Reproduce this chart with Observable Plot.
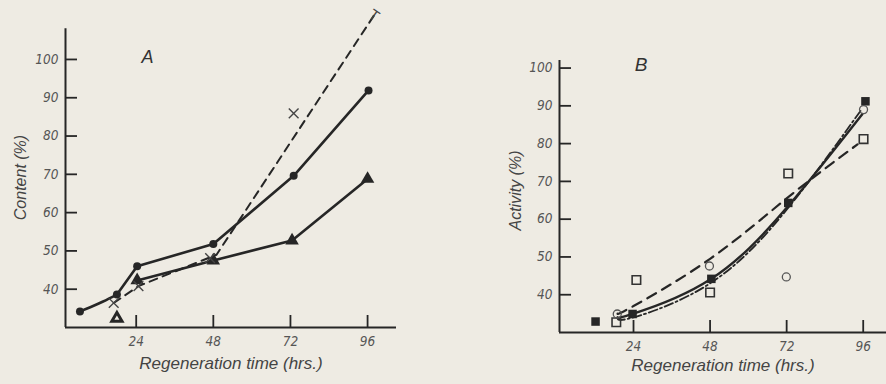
<!DOCTYPE html>
<html>
<head>
<meta charset="utf-8">
<script src="https://cdn.jsdelivr.net/npm/d3@7"></script>
<script src="https://cdn.jsdelivr.net/npm/@observablehq/plot@0.6"></script>
<style>
  html, body { margin: 0; padding: 0; background: #eeebe3; }
  #wrap { position: relative; width: 886px; height: 384px; overflow: hidden; background: #eeebe3; }
  #wrap svg { position: absolute; top: 0; background: transparent; }
</style>
</head>
<body>
<div id="wrap"></div>
<script>
// ---------- shared ----------
const xTicks = [24, 48, 72, 96];
const yTicks = [40, 50, 60, 70, 80, 90, 100];
const xTitle = "Regeneration time (hrs.)";

// ---------- Panel A: Content (%) ----------
const aTitle = "Content (%)";
const aLetter = ["A"];
const aLetterPos = { t: 27.5, v: 100.5 };
// solid line with filled circles
const aCircT = [6.5, 18, 24.3, 48, 73, 96.3];
const aCircV = [34.2, 38.6, 46, 51.8, 69.6, 91.9];
// curved start of that line
const aCurveT = [6.5, 9.7, 13.7, 18];
const aCurveV = [34.2, 35.3, 36.8, 38.6];
// solid line with filled triangles
const aTriT = [24.3, 48, 72.5, 96];
const aTriV = [42.3, 47.5, 52.7, 68.8];
// isolated open (bold) triangle
const aOpenTriT = [18];
const aOpenTriV = [32.4];
// crosses
const aCrossT = [17, 24.7, 47, 73];
const aCrossV = [36.4, 40.8, 48.1, 85.9];
// dashed line
const aDashT = [17, 24.7, 49, 98];
const aDashV = [36.4, 40.8, 49, 111.5];
// end mark of dashed line
const aEndT = [98];
const aEndV = [111.5];

// ---------- Panel B: Activity (%) ----------
const bTitle = "Activity (%)";
const bLetter = ["B"];
const bLetterPos = { t: 26.4, v: 100.9 };
const bFillSqT = [12.1, 23.7, 48.4, 72.5, 96.7];
const bFillSqV = [32.9, 34.9, 44.2, 64.3, 91.2];
const bOpenSqT = [18.6, 24.9, 48, 72.5, 96.1];
const bOpenSqV = [32.7, 43.9, 40.6, 72.1, 81.2];
const bOpenCircT = [18.9, 47.8, 71.9, 96.1];
const bOpenCircV = [34.9, 47.6, 44.7, 89];
// fitted curves
const bSolidT = [19, 24, 48, 72, 95.7];
const bSolidV = [34, 35, 44, 63, 87.8];
const bDashT = [19, 24, 48, 72, 94.2];
const bDashV = [35, 37, 49.5, 65.5, 79.8];
const bDashDotT = [19, 24, 48, 72, 95.7];
const bDashDotV = [34, 34, 43, 62.5, 89.3];

// ---------- helpers ----------
const zip = (T, V) => T.map((t, i) => ({ t, v: V[i] }));
const ink = "#262626";
const tickInk = "#555";
const fontFam = "'DejaVu Sans Condensed', 'Liberation Sans Narrow', 'DejaVu Sans', sans-serif";
const titleFam = "'Liberation Sans', 'DejaVu Sans', sans-serif";
const tickLen = 12; // px

function axes(size, xDom, yDom, yAxisTop, yTitle, yTitleOffset, yTitleShift, xTitleOffset) {
  const frameW = size.width - size.marginLeft - size.marginRight;
  const frameH = size.height - size.marginTop - size.marginBottom;
  // tick length expressed in data units of each scale
  const tx = tickLen * (xDom[1] - xDom[0]) / frameW;
  const ty = tickLen * (yDom[1] - yDom[0]) / frameH;
  return [
    Plot.ruleX([xDom[0]], { y1: yDom[0], y2: yAxisTop, stroke: ink, strokeWidth: 2 }),
    Plot.ruleY([yDom[0]], { x1: xDom[0], x2: xDom[1], stroke: ink, strokeWidth: 2 }),
    // inward tick marks
    Plot.ruleX(xTicks, { x: d => d, y1: yDom[0], y2: yDom[0] + ty, stroke: ink, strokeWidth: 1.8 }),
    Plot.ruleY(yTicks, { y: d => d, x1: xDom[0], x2: xDom[0] + tx, stroke: ink, strokeWidth: 1.8 }),
    Plot.axisX(xTicks, { tickSize: 0, tickPadding: 9,
      fill: tickInk, fontSize: 13.5, fontStyle: "italic", fontFamily: fontFam, label: null }),
    Plot.axisY(yTicks, { tickSize: 0, tickPadding: 7,
      fill: tickInk, fontSize: 13.5, fontStyle: "italic", fontFamily: fontFam, label: null }),
    Plot.text([yTitle], { frameAnchor: "left", dx: -yTitleOffset, dy: yTitleShift, rotate: -90, textAnchor: "middle",
      fontSize: 16, fontStyle: "italic", fontFamily: titleFam, fill: "#444" }),
    Plot.text([xTitle], { frameAnchor: "bottom", dy: xTitleOffset, textAnchor: "middle", fontSize: 17,
      fontStyle: "italic", fontFamily: titleFam, fill: "#444" })
  ];
}

// ---------- Panel A ----------
const sizeA = { width: 440, height: 384, marginLeft: 65, marginRight: 44, marginTop: 13, marginBottom: 57 };
const xDomA = [2, 105], yDomA = [30, 112];
const plotA = Plot.plot({
  ...sizeA,
  style: { background: "transparent", overflow: "visible" },
  x: { domain: xDomA, axis: null },
  y: { domain: yDomA, axis: null },
  marks: [
    ...axes(sizeA, xDomA, yDomA, 108, aTitle, 45, 7, 41),
    Plot.line(zip(aDashT, aDashV), { x: "t", y: "v", stroke: ink, strokeWidth: 2, strokeDasharray: "8,6" }),
    Plot.line(zip(aCurveT, aCurveV), { x: "t", y: "v", stroke: ink, strokeWidth: 2.6, curve: "catmull-rom" }),
    Plot.line(zip(aCircT, aCircV).slice(1), { x: "t", y: "v", stroke: ink, strokeWidth: 2.6 }),
    Plot.line(zip(aTriT, aTriV), { x: "t", y: "v", stroke: ink, strokeWidth: 2.6 }),
    Plot.dot(zip(aCircT, aCircV), { x: "t", y: "v", r: 4, fill: ink }),
    Plot.dot(zip(aTriT, aTriV), { x: "t", y: "v", r: 5, symbol: "triangle", fill: ink }),
    Plot.dot(zip(aOpenTriT, aOpenTriV), { x: "t", y: "v", r: 3.8, symbol: "triangle", fill: "none", stroke: ink, strokeWidth: 3 }),
    Plot.dot(zip(aCrossT, aCrossV), { x: "t", y: "v", r: 4.5, symbol: "times", stroke: "#444", strokeWidth: 1.4 }),
    Plot.text(zip(aEndT, aEndV), { x: "t", y: "v", text: () => "T", rotate: 35, fontSize: 15, fill: "#444", fontFamily: titleFam }),
    Plot.text(aLetter, { x: () => aLetterPos.t, y: () => aLetterPos.v, fontSize: 18, fontStyle: "italic", fontFamily: titleFam, fill: "#333" })
  ]
});

// ---------- Panel B ----------
const sizeB = { width: 446, height: 384, marginLeft: 119, marginRight: 0, marginTop: 60, marginBottom: 52 };
const xDomB = [0.8, 103.3], yDomB = [30, 102];
const plotB = Plot.plot({
  ...sizeB,
  style: { background: "transparent", overflow: "visible" },
  x: { domain: xDomB, axis: null },
  y: { domain: yDomB, axis: null },
  marks: [
    ...axes(sizeB, xDomB, yDomB, 102, bTitle, 44, -6, 38),
    Plot.line(zip(bDashT, bDashV), { x: "t", y: "v", stroke: ink, strokeWidth: 2.2, strokeDasharray: "10,7", curve: "natural" }),
    Plot.line(zip(bDashDotT, bDashDotV), { x: "t", y: "v", stroke: ink, strokeWidth: 1.8, strokeDasharray: "9,3,2,3", curve: "natural" }),
    Plot.line(zip(bSolidT, bSolidV), { x: "t", y: "v", stroke: ink, strokeWidth: 2.4, curve: "natural" }),
    Plot.dot(zip(bFillSqT, bFillSqV), { x: "t", y: "v", r: 4.8, symbol: "square", fill: ink }),
    Plot.dot(zip(bOpenSqT, bOpenSqV), { x: "t", y: "v", r: 4.8, symbol: "square", fill: "none", stroke: "#333", strokeWidth: 1.6 }),
    Plot.dot(zip(bOpenCircT, bOpenCircV), { x: "t", y: "v", r: 4, fill: "none", stroke: "#555", strokeWidth: 1.3 }),
    Plot.text(bLetter, { x: () => bLetterPos.t, y: () => bLetterPos.v, fontSize: 19, fontStyle: "italic", fontFamily: titleFam, fill: "#333" })
  ]
});

const wrap = document.getElementById("wrap");
plotA.style.left = "0px";
plotB.style.left = "440px";
wrap.appendChild(plotA);
wrap.appendChild(plotB);
</script>
</body>
</html>
